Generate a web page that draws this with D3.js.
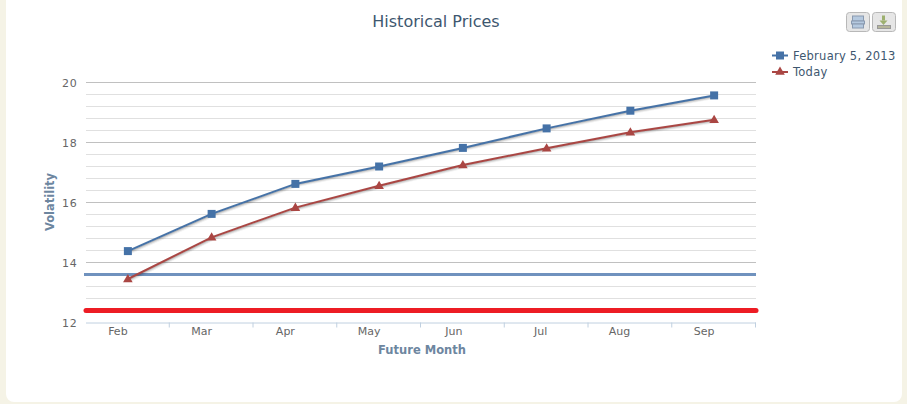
<!DOCTYPE html>
<html><head><meta charset="utf-8">
<script src="https://cdn.jsdelivr.net/npm/d3@7"></script>
<style>html,body{margin:0;padding:0;background:#f5f3e6;overflow:hidden}svg{display:block}text{font-family:"DejaVu Sans",sans-serif}</style>
</head><body><div id="c"></div>
<script>
const categories=["Feb","Mar","Apr","May","Jun","Jul","Aug","Sep"];
const series1Name="February 5, 2013";
const series1=[14.38,15.62,16.62,17.2,17.82,18.47,19.06,19.57];
const series2Name="Today";
const series2=[13.45,14.84,15.83,16.56,17.25,17.81,18.34,18.76];
const majorTicks=[12,14,16,18,20];
const minorTicks=[12.4,12.8,13.2,13.6,14.4,14.8,15.2,15.6,16.4,16.8,17.2,17.6,18.4,18.8,19.2,19.6];
const plotLineBlue=13.6, plotLineRed=12.4;
const titleText="Historical Prices", xTitle="Future Month", yTitle="Volatility";

const W=907,H=404;
const svg=d3.select("#c").append("svg").attr("width",W).attr("height",H);
svg.append("rect").attr("x",6).attr("y",-10).attr("width",896).attr("height",412).attr("rx",8).attr("fill","#fff");

const x=d3.scaleBand().domain(categories).range([85.5,755.5]);
const y=d3.scaleLinear().domain([12,20]).range([322.5,82.5]);

const plotG=svg.append("g");
plotG.selectAll("line.minor").data(minorTicks).join("line").attr("class","minor")
 .attr("x1",86).attr("x2",756).attr("y1",d=>y(d)).attr("y2",d=>y(d)).attr("stroke","#e0e0e0").attr("stroke-width",1);
plotG.selectAll("line.major").data(majorTicks.filter(d=>d>12)).join("line").attr("class","major")
 .attr("x1",86).attr("x2",756).attr("y1",d=>y(d)).attr("y2",d=>y(d)).attr("stroke","#c0c0c0").attr("stroke-width",1);

plotG.append("line").attr("x1",84).attr("x2",756).attr("y1",y(plotLineBlue)).attr("y2",y(plotLineBlue)).attr("stroke","#7092be").attr("stroke-width",3);
plotG.append("line").attr("x1",86).attr("x2",756).attr("y1",y(plotLineRed)).attr("y2",y(plotLineRed)).attr("stroke","#ed1c24").attr("stroke-width",5).attr("stroke-linecap","round");

// x axis
const xAxis=d3.axisBottom(x).tickSize(0).tickPadding(0);
const xg=svg.append("g").attr("transform","translate(0,322.5)").call(xAxis);
xg.select(".domain").attr("stroke","#c0d0e0").attr("stroke-width",1);
xg.selectAll("text").attr("font-size",11).attr("fill","#666").attr("dx",d=>d==="Jul"?-5.5:d==="Jun"?-8.5:d==="Aug"?-10.5:-9.5).attr("dy",0).attr("y",4.5).attr("dominant-baseline","hanging");
const bands=categories.map(c=>x(c)).concat([x.range()[1]]);
svg.selectAll("line.xt").data(bands.slice(1)).join("line").attr("class","xt")
 .attr("x1",d=>d).attr("x2",d=>d).attr("y1",322.5).attr("y2",327.5).attr("stroke","#c0d0e0");

// y axis
const yAxis=d3.axisLeft(y).tickValues(majorTicks).tickSize(0).tickPadding(0);
const yg=svg.append("g").attr("transform","translate(77.5,0.5)").call(yAxis);
yg.select(".domain").remove();
yg.selectAll("text").attr("font-size",11).attr("fill","#666").attr("letter-spacing",0.8);

// titles
svg.append("text").attr("x",436).attr("y",27).attr("text-anchor","middle").attr("font-size",16).attr("fill","#3e576f").text(titleText);
svg.append("text").attr("x",422).attr("y",354).attr("text-anchor","middle").attr("font-size",11.5).attr("font-weight","bold").attr("fill","#6d869f").text(xTitle);
svg.append("text").attr("transform","translate(54,202) rotate(-90)").attr("text-anchor","middle").attr("font-size",11.5).attr("font-weight","bold").attr("fill","#6d869f").text(yTitle);

// series
const line=d3.line().x((d,i)=>x(categories[i])+x.bandwidth()/2+0.5).y(d=>y(d));
const drawS=(vals,col,sym,size,dy)=>{
 const g=svg.append("g");
 [[5,.05],[3,.1],[1,.15]].forEach(([w,o])=>g.append("path").attr("d",line(vals)).attr("fill","none").attr("stroke","#000").attr("stroke-opacity",o).attr("stroke-width",w).attr("transform","translate(1,1)"));
 g.append("path").attr("d",line(vals)).attr("fill","none").attr("stroke",col).attr("stroke-width",2);
 g.selectAll("path.m").data(vals).join("path").attr("class","m")
  .attr("d",d3.symbol().type(sym).size(size)())
  .attr("transform",(d,i)=>`translate(${x(categories[i])+x.bandwidth()/2+0.5},${y(d)+dy})`).attr("fill",col);
};
drawS(series1,"#4572a7",d3.symbolSquare,64,0);
drawS(series2,"#aa4643",d3.symbolTriangle,40,0.5);

// legend
const leg=[[series1Name,"#4572a7",d3.symbolSquare,64,55.5],[series2Name,"#aa4643",d3.symbolTriangle,40,72]];
leg.forEach(([t,c,s,z,ly])=>{
 svg.append("line").attr("x1",772).attr("x2",788).attr("y1",ly).attr("y2",ly).attr("stroke",c).attr("stroke-width",2);
 svg.append("path").attr("d",d3.symbol().type(s).size(z)()).attr("transform",`translate(780,${ly})`).attr("fill",c);
 svg.append("text").attr("x",793).attr("y",ly+4).attr("font-size",11.5).attr("letter-spacing",0.25).attr("fill","#3e576f").text(t);
});

// buttons
const btn=svg.append("g");
[[846.5],[872.5]].forEach(([bx],i)=>{
 btn.append("rect").attr("x",bx).attr("y",12.5).attr("width",23).attr("height",19).attr("rx",3).attr("fill","#e6e6e6").attr("stroke","#b8b8b8");
 if(i==0){
  btn.append("rect").attr("x",bx+6).attr("y",16).attr("width",11).attr("height",5).attr("fill","#b5c9df").attr("stroke","#8a9ab0");
  btn.append("rect").attr("x",bx+5).attr("y",21).attr("width",13).attr("height",3).attr("fill","#b5c9df").attr("stroke","#8a9ab0");
  btn.append("rect").attr("x",bx+6).attr("y",24).attr("width",11).attr("height",4).attr("fill","#b5c9df").attr("stroke","#8a9ab0");
 } else {
  btn.append("rect").attr("x",bx+9.5).attr("y",15.5).attr("width",3).attr("height",5).attr("fill","#9db06f");
  btn.append("path").attr("d",`M${bx+7},20.5L${bx+15},20.5L${bx+11},25Z`).attr("fill","#9db06f");
  btn.append("rect").attr("x",bx+5).attr("y",25.5).attr("width",13).attr("height",3).attr("fill","#b5b59a").attr("stroke","#999");
 }
});
</script></body></html>
